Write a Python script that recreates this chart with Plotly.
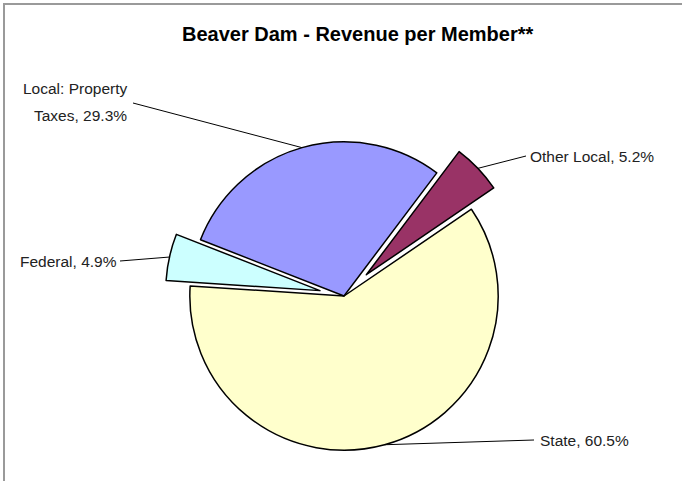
import numpy as np
import plotly.graph_objects as go

# ---- data ----
labels = ["Other Local", "State", "Federal", "Local: Property Taxes"]
values = [5.2, 60.5, 4.9, 29.3]
label_text = ["Other Local, 5.2%", "State, 60.5%", "Federal, 4.9%", "Local: Property<br>Taxes, 29.3%"]
colors = ["#993366", "#FFFFCC", "#CCFFFF", "#9999FF"]
pulls = [0.2, 0.0, 0.16, 0.0]
title = "Beaver Dam - Revenue per Member**"

W, H = 682, 481
ROT = 37
CX, CY = 344, 296
BOX = 370
R = BOX / (2 + 2 * max(pulls))

def px(x):
    return x / W

def py(y):
    return 1 - y / H

fig = go.Figure()
fig.add_trace(go.Pie(
    labels=labels, values=values, sort=False, direction="clockwise",
    rotation=ROT, pull=pulls, textinfo="none", hoverinfo="label+percent",
    marker=dict(colors=colors, line=dict(color="black", width=1.5)),
    domain=dict(x=[px(CX - BOX / 2), px(CX + BOX / 2)], y=[py(CY + BOX / 2), py(CY - BOX / 2)]),
    showlegend=False,
))

# leader line end points derived from the data (slice mid-angles)
vals = np.array(values)
frac = vals / vals.sum()
start = ROT + 360 * np.concatenate([[0], np.cumsum(frac)[:-1]])
mid = np.radians(start + 360 * frac / 2)
ends = []
for m, p in zip(mid, pulls):
    rr = R * (1 + p)
    ends.append((CX + rr * np.sin(m), CY - rr * np.cos(m)))

font = dict(family="Liberation Sans, Arial", size=15.5, color="#222222")

# label anchors (layout)
anchors = {
    0: dict(tx=528, ty=156, xa="left", lx=526, ly=156),
    1: dict(tx=538, ty=440, xa="left", lx=534, ly=440),
    2: dict(tx=119, ty=261, xa="right", lx=120, ly=261),
}
shapes = []
annotations = []
for i, a in anchors.items():
    annotations.append(dict(x=px(a["tx"]), y=py(a["ty"]), xref="paper", yref="paper",
                            text=label_text[i], showarrow=False, xanchor=a["xa"],
                            yanchor="middle", font=font))
    ex, ey = ends[i]
    shapes.append(dict(type="line", xref="paper", yref="paper",
                       x0=px(a["lx"]), y0=py(a["ly"]), x1=px(ex), y1=py(ey),
                       line=dict(color="black", width=1)))

# two-line label for Local: Property Taxes
l1, l2 = label_text[3].split("<br>")
annotations.append(dict(x=px(129), y=py(88), xref="paper", yref="paper", text=l1,
                        showarrow=False, xanchor="right", yanchor="middle", font=font))
annotations.append(dict(x=px(129), y=py(115), xref="paper", yref="paper", text=l2,
                        showarrow=False, xanchor="right", yanchor="middle", font=font))
ex, ey = ends[3]
shapes.append(dict(type="line", xref="paper", yref="paper",
                   x0=px(133), y0=py(103), x1=px(ex), y1=py(ey),
                   line=dict(color="black", width=1)))

# title
annotations.append(dict(x=px(357), y=py(34), xref="paper", yref="paper", text="<b>" + title + "</b>",
                        showarrow=False, xanchor="center", yanchor="middle",
                        font=dict(family="Liberation Sans, Arial", size=20, color="black")))

# chart border
shapes.append(dict(type="rect", xref="paper", yref="paper", x0=px(4), y0=py(H + 20), x1=px(W + 20), y1=py(4),
                   line=dict(color="#9A9A9A", width=2), layer="below"))

fig.update_layout(width=W, height=H, margin=dict(l=0, r=0, t=0, b=0),
                  paper_bgcolor="white", plot_bgcolor="white",
                  shapes=shapes, annotations=annotations)
fig.write_html("out.html", config={"displayModeBar": False},
               post_script="document.body.style.margin='0';document.body.style.overflow='hidden';")
